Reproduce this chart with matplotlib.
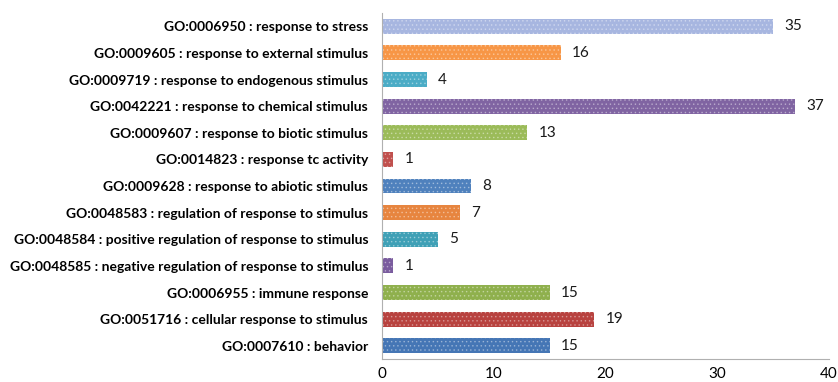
import matplotlib.pyplot as plt
import matplotlib as mpl

# GO terms, top to bottom as shown in the chart
terms = [
    "GO:0006950 : response to stress",
    "GO:0009605 : response to external stimulus",
    "GO:0009719 : response to endogenous stimulus",
    "GO:0042221 : response to chemical stimulus",
    "GO:0009607 : response to biotic stimulus",
    "GO:0014823 : response tc activity",
    "GO:0009628 : response to abiotic stimulus",
    "GO:0048583 : regulation of response to stimulus",
    "GO:0048584 : positive regulation of response to stimulus",
    "GO:0048585 : negative regulation of response to stimulus",
    "GO:0006955 : immune response",
    "GO:0051716 : cellular response to stimulus",
    "GO:0007610 : behavior",
]
counts = [35, 16, 4, 37, 13, 1, 8, 7, 5, 1, 15, 19, 15]
bar_colors = ["#a7b6e0", "#f79646", "#4bacc6", "#8064a2", "#9bbb59", "#c0504d",
              "#4f81bd", "#e7853f", "#3fa0b6", "#7a5c9e", "#8fb04d", "#b8423f", "#4576b5"]
xticks = [0, 10, 20, 30, 40]

mpl.rcParams["hatch.linewidth"] = 0.6
fig = plt.figure(figsize=(8.38, 3.82), dpi=100)
ax = fig.add_axes([0.456, 0.060, 0.533, 0.906])

ypos = list(range(len(terms)))
for y, v, c in zip(ypos, counts, bar_colors):
    ax.barh(y, v, height=0.56, color=c, edgecolor=mpl.colors.to_rgba("white", 0.35),
            hatch="....", linewidth=0)
    ax.text(v + 1.0, y, str(v), va="center", ha="left", fontsize=11,
            family="Lato", color="#1a1a1a")

ax.set_ylim(len(terms) - 0.5, -0.5)
ax.set_xlim(0, 40)
ax.set_yticks(ypos)
ax.set_yticklabels(terms, fontsize=10, family="Lato", fontweight="bold")
ax.set_xticks(xticks)
ax.set_xticklabels([str(t) for t in xticks], fontsize=11, family="Lato")
ax.tick_params(axis="both", length=0)
ax.tick_params(axis="y", pad=10)
ax.tick_params(axis="x", pad=6)

for s in ["top", "right"]:
    ax.spines[s].set_visible(False)
ax.spines["left"].set_color("#b0b0b0")
ax.spines["bottom"].set_color("#b0b0b0")
ax.spines["bottom"].set_linestyle((0, (2, 1)))

fig.savefig("out.png", dpi=100)
